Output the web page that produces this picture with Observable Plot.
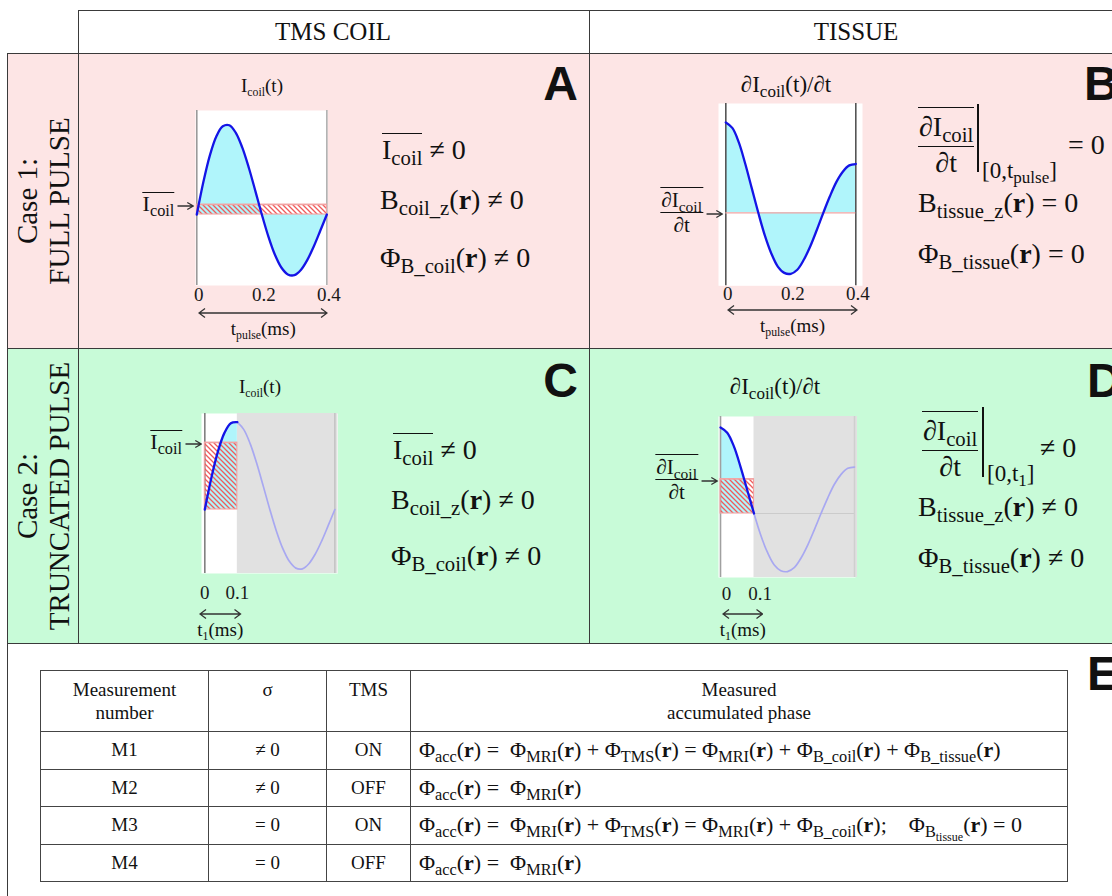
<!DOCTYPE html>
<html>
<head>
<meta charset="utf-8">
<script src="https://cdn.jsdelivr.net/npm/d3@7"></script>
<script src="https://cdn.jsdelivr.net/npm/@observablehq/plot@0.6"></script>
<style>
  html, body { margin: 0; padding: 0; background: #fff; }
  #page { position: relative; width: 1112px; height: 896px; overflow: hidden;
          font-family: "Liberation Serif", serif; color: #111; }
  .abs { position: absolute; white-space: nowrap; }
  .hl { position: absolute; height: 0; border-top: 1.6px solid #3a3a3a; }
  .vl { position: absolute; width: 0; border-left: 1.6px solid #3a3a3a; }
  sub { font-size: .74em; vertical-align: -0.3em; line-height: 0; }
  .ob { position: relative; }
  .ob::before { content: ""; position: absolute; left: 0; right: 0; top: -0.04em; border-top: 1.4px solid #111; }
  .math { font-size: 28px; line-height: 28px; }
  .lbl { font-size: 22px; line-height: 22px; }
  .ttl { font-size: 19px; line-height: 19px; }
  .ttl sub.tiny, .tl sub.tiny { font-size: .62em; vertical-align: -0.35em; }
  .dttl { font-size: 23px; line-height: 23px; }
  .tl { font-size: 19px; line-height: 19px; }
  .evsub { font-size: 23px; line-height: 20px; }
  .letter { font-family: "Liberation Sans", sans-serif; font-weight: bold; font-size: 48px; line-height: 48px; }
  .frac { display: inline-flex; flex-direction: column; align-items: center; vertical-align: middle; }
  .frac .num { border-top: 1.4px solid #111; border-bottom: 1.4px solid #111; padding: 0 1px; }
  .bigfrac { font-size: 28px; }
  .bigfrac .num { line-height: 38px; }
  .bigfrac .den { line-height: 32px; }
  .head { font-size: 25px; line-height: 25px; }
  .rowlab { font-size: 29px; line-height: 32px; text-align: center; transform: rotate(-90deg); }
  table.meas { position: absolute; left: 40px; top: 670px; width: 1028px; border-collapse: collapse;
               font-family: "Liberation Serif", serif; font-size: 19px; color: #111; }
  table.meas td { border: 1.5px solid #444; text-align: center; vertical-align: middle; padding: 0; height: 36.5px; }
  table.meas tr.hdr td { height: 53px; line-height: 23px; vertical-align: top; padding-top: 7px; }
  table.meas td.phase { text-align: left; padding-left: 8px; font-size: 22px; }
  table.meas tr.hdr td.phase { text-align: center; font-size: 19px; padding-left: 0; }
</style>
</head>
<body>
<svg width="0" height="0" style="position:absolute">
  <defs>
    <pattern id="hatch" patternUnits="userSpaceOnUse" width="5" height="5">
      <path d="M-1,-1 L6,6 M-1,4 L1,6 M4,-1 L6,1" stroke="#ef5b5b" stroke-width="1.3" fill="none"/>
    </pattern>
  </defs>
</svg>
<div id="page"></div>
<script>
// ---- time samples (ms) and coil waveforms ----
const tSamples = [0, 0.02, 0.04, 0.06, 0.08, 0.10, 0.12, 0.14, 0.16, 0.18, 0.20,
                  0.22, 0.24, 0.26, 0.28, 0.30, 0.32, 0.34, 0.36, 0.38, 0.40];
// coil current I_coil(t), normalised to its peak
const coilCurrent = [0, 0.358, 0.655, 0.868, 0.981, 0.992, 0.908, 0.743, 0.520, 0.263, 0,
                     -0.243, -0.445, -0.589, -0.666, -0.674, -0.616, -0.504, -0.353, -0.178, 0];
// its time derivative dI_coil/dt, normalised to the value at t = 0
const coilDerivative = [1, 0.94, 0.78, 0.54, 0.27, 0, -0.25, -0.45, -0.595, -0.665, -0.675,
                        -0.63, -0.52, -0.37, -0.19, 0, 0.18, 0.34, 0.455, 0.525, 0.54];
const tPulse = 0.4;   // full pulse length (ms)
const tTrunc = 0.1;   // truncation time t1 (ms)
// mean levels over the integration window
const meanCurrentFull = 0.11;
const meanDerivFull = 0;
const meanCurrentTrunc = 0.76;
const meanDerivTrunc = 0.40;
// axis ticks
const ticksFull = [0, 0.2, 0.4];
const ticksTrunc = [0, 0.1];

// ---- measurement table ----
const measurements = ["M1", "M2", "M3", "M4"];
const sigmaStates = ["\u2260 0", "\u2260 0", "= 0", "= 0"];
const tmsStates = ["ON", "OFF", "ON", "OFF"];
const R = "(<b>r</b>)";
const phaseFormulas = [
  `Φ<sub>acc</sub>${R} = &nbsp;Φ<sub>MRI</sub>${R} + Φ<sub>TMS</sub>${R} = Φ<sub>MRI</sub>${R} + Φ<sub>B_coil</sub>${R} + Φ<sub>B_tissue</sub>${R}`,
  `Φ<sub>acc</sub>${R} = &nbsp;Φ<sub>MRI</sub>${R}`,
  `Φ<sub>acc</sub>${R} = &nbsp;Φ<sub>MRI</sub>${R} + Φ<sub>TMS</sub>${R} = Φ<sub>MRI</sub>${R} + Φ<sub>B_coil</sub>${R};&nbsp;&nbsp;&nbsp; Φ<sub>B<sub>tissue</sub></sub>${R} = 0`,
  `Φ<sub>acc</sub>${R} = &nbsp;Φ<sub>MRI</sub>${R}`
];

const page = document.getElementById("page");

function put(html, x, y, cls, anchor = "left") {
  const d = document.createElement("div");
  d.className = "abs " + (cls || "");
  d.innerHTML = html;
  d.style.left = x + "px";
  d.style.top = y + "px";
  if (anchor === "center") d.style.transform = "translateX(-50%)";
  if (anchor === "right") d.style.transform = "translateX(-100%)";
  page.appendChild(d);
  return d;
}
function box(cls, x, y, w, h, bg) {
  const d = document.createElement("div");
  d.className = cls;
  d.style.left = x + "px"; d.style.top = y + "px";
  if (w != null) d.style.width = w + "px";
  if (h != null) d.style.height = h + "px";
  if (bg) { d.style.background = bg; d.style.position = "absolute"; }
  page.appendChild(d);
  return d;
}
const arrowRight = (w) => `<svg width="${w}" height="10" style="vertical-align:middle"><path d="M0,5H${w - 1} M${w - 7},1.5 L${w - 1},5 L${w - 7},8.5" stroke="#333" stroke-width="1.3" fill="none"/></svg>`;

// ---- row backgrounds and grid ----
box("", 7, 53, 1105, 295, "#fde5e5");
box("", 7, 348, 1105, 295, "#c8fbd8");
box("hl", 78, 10, 1040);
box("hl", 7, 53, 1110);
box("hl", 7, 348, 1110);
box("hl", 7, 643, 1110);
box("vl", 78, 10, null, 633);
box("vl", 589, 10, null, 633);
box("vl", 7, 53, null, 850);

put("TMS COIL", 333, 19, "head", "center");
put("TISSUE", 856, 19, "head", "center");

const r1 = put("Case 1:<br>FULL PULSE", 42.5 - 147.5, 200.5 - 32, "rowlab");
r1.style.width = "295px"; r1.style.height = "64px";
const r2 = put("Case 2:<br>TRUNCATED PULSE", 42.5 - 147.5, 496 - 32, "rowlab");
r2.style.width = "295px"; r2.style.height = "64px";

// ---- waveform panels ----
const samples = (vals) => tSamples.map((t, i) => ({t, v: vals[i]}));

function drawPanel(cfg) {
  const rows = samples(cfg.values);
  const solid = rows.filter(d => d.t <= cfg.tEnd + 1e-9);
  const faded = rows.filter(d => d.t >= cfg.tEnd - 1e-9);
  const truncated = cfg.tEnd < tPulse;
  const m = {l: 16, r: 16, t: 4, b: 40};
  const [fx0, fx1, fy0, fy1] = cfg.frame;
  const curve = "catmull-rom";
  const chart = Plot.plot({
    width: fx1 - fx0 + m.l + m.r,
    height: fy1 - fy0 + m.t + m.b,
    marginLeft: m.l, marginRight: m.r, marginTop: m.t, marginBottom: m.b,
    x: {domain: cfg.xDomain},
    y: {domain: cfg.yDomain, axis: null},
    style: {background: "transparent", overflow: "visible", fontFamily: "Liberation Serif", fontSize: "19px", color: "#1a1a1a"},
    marks: [
      Plot.frame({fill: "white", stroke: null}),
      truncated ? Plot.rect([{a: cfg.tEnd, b: tPulse}], {x1: "a", x2: "b", fill: "#e1e1e1", insetRight: -3}) : null,
      Plot.areaY(solid, {x: "t", y1: 0, y2: "v", fill: "#b0f5fb", curve}),
      truncated && cfg.zeroRule ? Plot.ruleY([0], {x1: cfg.tEnd, x2: tPulse, stroke: "#cbcbcb"}) : null,
      Plot.ruleX([0], {stroke: cfg.axisColor[0], strokeWidth: 1.6}),
      Plot.ruleX([tPulse], {stroke: cfg.axisColor[1], strokeWidth: 1.6}),
      Plot.rect([{a: 0, b: cfg.tEnd, m: cfg.mean}], {x1: "a", x2: "b", y1: 0, y2: "m", fill: "url(#hatch)", stroke: "#f2a3a3", strokeWidth: 1.1}),
      Plot.ruleY([cfg.mean], {x1: 0, x2: cfg.tEnd, stroke: "#f2a3a3", strokeWidth: 1.2}),
      truncated ? Plot.line(faded, {x: "t", y: "v", stroke: "#a8a8f1", strokeWidth: 1.7, curve}) : null,
      Plot.line(solid, {x: "t", y: "v", stroke: "#1414e6", strokeWidth: 2.3, curve}),
      Plot.axisX(cfg.ticks, {tickSize: 0, tickPadding: cfg.tickPad, dx: cfg.tickDx, fontSize: 19, tickFormat: d => String(d)})
    ]
  });
  const left = fx0 - m.l, top = fy0 - m.t;
  chart.style.position = "absolute";
  chart.style.left = left + "px";
  chart.style.top = top + "px";
  page.appendChild(chart);
  const sx = chart.scale("x"), sy = chart.scale("y");
  const px = (t) => left + sx.apply(t);
  const py = (v) => top + sy.apply(v);

  // double arrow spanning the integration window
  const xa = px(0) + cfg.arrowPad[0], xb = px(cfg.tEnd) + cfg.arrowPad[1];
  const w = xb - xa;
  put(`<svg width="${w + 2}" height="12"><path d="M1,6H${w + 1} M7,1.5 L1,6 L7,10.5 M${w - 5},1.5 L${w + 1},6 L${w - 5},10.5" stroke="#333" stroke-width="1.3" fill="none"/></svg>`,
      xa - 1, cfg.arrowY - 6);
  put(cfg.spanLabel, (xa + xb) / 2, cfg.arrowY + 8, "tl", "center");

  // pointer to the mean level
  const lab = put(`<span style="display:inline-flex;align-items:center">${cfg.meanLabel}<span style="margin-left:3px">${arrowRight(17)}</span></span>`,
                  px(0) - 2, 0, cfg.meanLabelCls, "right");
  lab.style.top = (py(cfg.mean) - lab.offsetHeight / 2 + cfg.meanLabelDy) + "px";
  return chart;
}

const IcoilBar = `<span class="ob">I<sub>coil</sub></span>`;
const dFrac = (fs) => `<span class="frac" style="font-size:${fs}px;line-height:1.15"><span class="num">∂I<sub>coil</sub></span><span>∂t</span></span>`;
const dFracBig = `<span class="frac bigfrac"><span class="num">∂I<sub>coil</sub></span><span class="den">∂t</span></span>`;
const spanPulse = `t<sub class="tiny">pulse</sub>(ms)`;
const spanT1 = `t<sub class="tiny">1</sub>(ms)`;

// Panel A: coil current, full pulse
drawPanel({
  values: coilCurrent, tEnd: tPulse, mean: meanCurrentFull,
  frame: [195, 327, 110, 285], xDomain: [-0.004, 0.402], yDomain: [-0.789, 1.156],
  axisColor: ["#9a9a9a", "#b0b0b0"], ticks: ticksFull, tickPad: 2, tickDx: 2,
  arrowY: 311, arrowPad: [3, 1], spanLabel: spanPulse,
  meanLabel: IcoilBar, meanLabelCls: "lbl", meanLabelDy: 0
});
// Panel B: current derivative, full pulse
drawPanel({
  values: coilDerivative, tEnd: tPulse, mean: meanDerivFull,
  frame: [717.7, 861.7, 102.7, 285], xDomain: [-0.0225, 0.4206], yDomain: [-0.808, 1.21],
  axisColor: ["#555", "#555"], ticks: ticksFull, tickPad: 1, tickDx: 2,
  arrowY: 308, arrowPad: [3, 2], spanLabel: spanPulse,
  meanLabel: dFrac(21), meanLabelCls: "lbl", meanLabelDy: 0
});
// Panel C: coil current, truncated at t1
drawPanel({
  values: coilCurrent, tEnd: tTrunc, mean: meanCurrentTrunc,
  frame: [200.7, 337, 413, 573], xDomain: [-0.0102, 0.409], yDomain: [-0.727, 1.091],
  axisColor: ["#808080", "#c4c4c4"], ticks: ticksTrunc, tickPad: 12, tickDx: 0,
  arrowY: 612, arrowPad: [-4, 4], spanLabel: spanT1,
  meanLabel: IcoilBar, meanLabelCls: "lbl", meanLabelDy: 0, zeroRule: false
});
// Panel D: current derivative, truncated at t1
drawPanel({
  values: coilDerivative, tEnd: tTrunc, mean: meanDerivTrunc,
  frame: [718, 855, 416, 577], xDomain: [-0.006, 0.403], yDomain: [-0.744, 1.128],
  axisColor: ["#a0a0a0", "#cfcfcf"], ticks: ticksTrunc, tickPad: 9, tickDx: 6,
  arrowY: 612, arrowPad: [3, 9], spanLabel: spanT1,
  meanLabel: dFrac(21), meanLabelCls: "lbl", meanLabelDy: 0, zeroRule: true
});

// ---- panel titles ----
put(`I<sub class="tiny">coil</sub>(t)`, 262, 76, "ttl", "center");
put(`∂I<sub>coil</sub>(t)/∂t`, 786, 73, "dttl", "center");
put(`I<sub class="tiny">coil</sub>(t)`, 260, 377, "ttl", "center");
put(`∂I<sub>coil</sub>(t)/∂t`, 775, 375, "dttl", "center");

// ---- statements ----
put(`${IcoilBar} ≠ 0`, 382, 150 - 14, "math");
put(`B<sub>coil_z</sub>(<b>r</b>) ≠ 0`, 380, 200 - 14, "math");
put(`Φ<sub>B_coil</sub>(<b>r</b>) ≠ 0`, 380, 258 - 14, "math");

put(`${IcoilBar} ≠ 0`, 393, 450 - 14, "math");
put(`B<sub>coil_z</sub>(<b>r</b>) ≠ 0`, 391, 500 - 14, "math");
put(`Φ<sub>B_coil</sub>(<b>r</b>) ≠ 0`, 391, 556 - 14, "math");

// Panel B statements
put(dFracBig, 918, 107, "");
box("vl", 977, 104, null, 68).style.borderLeft = "2px solid #111";
put(`[0,t<sub>pulse</sub>]`, 982, 161, "evsub");
put(`= 0`, 1068, 145 - 14, "math");
put(`B<sub>tissue_z</sub>(<b>r</b>) = 0`, 918, 203 - 14, "math");
put(`Φ<sub>B_tissue</sub>(<b>r</b>) = 0`, 918, 254 - 14, "math");

// Panel D statements
put(dFracBig, 922, 411, "");
box("vl", 982, 407, null, 70).style.borderLeft = "2px solid #111";
put(`[0,t<sub>1</sub>]`, 987, 464, "evsub");
put(`≠ 0`, 1040, 448 - 14, "math");
put(`B<sub>tissue_z</sub>(<b>r</b>) ≠ 0`, 918, 507 - 14, "math");
put(`Φ<sub>B_tissue</sub>(<b>r</b>) ≠ 0`, 918, 558 - 14, "math");

// ---- panel letters ----
put("A", 578, 60, "letter", "right");
put("B", 1084, 60, "letter");
put("C", 578, 357, "letter", "right");
put("D", 1087, 357, "letter");
put("E", 1087, 650, "letter");

// ---- measurement table ----
const tbl = document.createElement("table");
tbl.className = "meas";
let html = `<colgroup><col style="width:168px"><col style="width:118px"><col style="width:84px"><col></colgroup>`;
html += `<tr class="hdr"><td>Measurement<br>number</td><td>σ</td><td>TMS</td><td class="phase">Measured<br>accumulated phase</td></tr>`;
measurements.forEach((mname, i) => {
  html += `<tr><td>${mname}</td><td>${sigmaStates[i]}</td><td>${tmsStates[i]}</td><td class="phase">${phaseFormulas[i]}</td></tr>`;
});
tbl.innerHTML = html;
page.appendChild(tbl);
</script>
</body>
</html>
